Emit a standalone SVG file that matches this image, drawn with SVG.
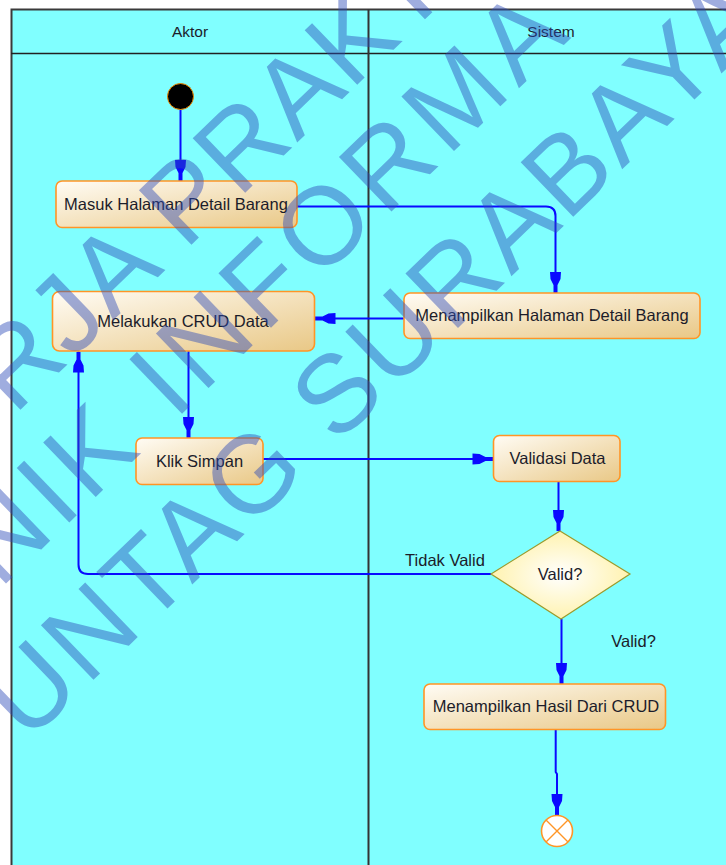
<svg xmlns="http://www.w3.org/2000/svg" width="726" height="865" viewBox="0 0 726 865">
<defs>
<style>
.lbl{font-family:"Liberation Sans",Arial,sans-serif;font-size:16.5px;fill:#1c1c2a;text-anchor:middle}
.hdr{font-family:"Liberation Sans",Arial,sans-serif;font-size:15.5px;fill:#1c1c2a;text-anchor:middle}
.act{fill:url(#actGrad);stroke:#ff9526;stroke-width:1.6}
.con{fill:none;stroke:#0a0aff;stroke-width:2}
.arr{marker-end:url(#ah)}
.wm{font-family:"Liberation Sans",Arial,sans-serif;font-size:110px;fill:#2d4bb9}
</style>
<linearGradient id="actGrad" x1="0" y1="0" x2="1" y2="1">
<stop offset="0" stop-color="#fffcf5"/>
<stop offset="1" stop-color="#e9c886"/>
</linearGradient>
<radialGradient id="decGrad" cx="0.5" cy="0.5" r="0.6">
<stop offset="0" stop-color="#ffffff"/>
<stop offset="1" stop-color="#fff0a0"/>
</radialGradient>
<marker id="ah" viewBox="-22 -6 22 12" refX="0" refY="0" markerWidth="22" markerHeight="12" markerUnits="userSpaceOnUse" orient="auto">
<path d="M-21,-5.5 L-14,-5 L-8,-2 L0,-2 L0,2 L-8,2 L-14,5 L-21,5.5 Z" fill="#0a0aff"/>
</marker>
</defs>
<rect x="0" y="0" width="726" height="865" fill="#ffffff"/>
<g id="swimlanes">
<rect x="11.5" y="9.5" width="730" height="870" fill="#80ffff" stroke="#3a3a3a" stroke-width="2"/>
<line x1="11" y1="53.5" x2="726" y2="53.5" stroke="#222" stroke-width="1.5"/>
<line x1="368.5" y1="9" x2="368.5" y2="865" stroke="#333" stroke-width="2"/>
<text class="hdr" x="190" y="37">Aktor</text>
<text class="hdr" x="551" y="37">Sistem</text>
</g>
<g id="connectors">
<path class="con arr" d="M180.5,110 L180.5,181"/>
<path class="con arr" d="M297,206.5 L546,206.5 Q555.5,206.5 555.5,216 L555.5,293"/>
<path class="con arr" d="M404,318.5 L314.5,318.5"/>
<path class="con arr" d="M188.5,351 L188.5,438"/>
<path class="con arr" d="M263,459 L493.5,459"/>
<path class="con arr" d="M558.5,481.5 L558.5,531"/>
<path class="con arr" d="M491,574 L88,574 Q78.5,574 78.5,564.5 L78.5,351.5"/>
<path class="con arr" d="M561.5,619 L561.5,684"/>
<path class="con arr" d="M555.7,729.5 L555.7,772 L557,774 L557,815"/>
</g>
<g id="start">
<circle cx="180.5" cy="96.5" r="13" fill="#000" stroke="#f08a00" stroke-width="1"/>
</g>
<g id="masuk">
<rect class="act" x="56" y="181" width="241" height="46.5" rx="6"/>
<text class="lbl" x="176" y="210">Masuk Halaman Detail Barang</text>
</g>
<g id="crud">
<rect class="act" x="52.5" y="291.5" width="262" height="59.5" rx="7"/>
<text class="lbl" x="183" y="326.5">Melakukan CRUD Data</text>
</g>
<g id="tampil">
<rect class="act" x="404" y="293" width="296" height="45.5" rx="6"/>
<text class="lbl" x="552" y="321">Menampilkan Halaman Detail Barang</text>
</g>
<g id="simpan">
<rect class="act" x="136" y="438" width="127" height="46.5" rx="6"/>
<text class="lbl" x="199.5" y="467">Klik Simpan</text>
</g>
<g id="validasi">
<rect class="act" x="493.5" y="435.5" width="126.5" height="46" rx="6"/>
<text class="lbl" x="557.5" y="464">Validasi Data</text>
</g>
<g id="decision">
<polygon points="560,531 630,574 561,619 491,574" fill="url(#decGrad)" stroke="#9c9a2c" stroke-width="1.2"/>
<text class="lbl" x="560" y="580">Valid?</text>
</g>
<g id="hasil">
<rect class="act" x="424" y="684" width="241.5" height="45.5" rx="6"/>
<text class="lbl" x="546" y="712">Menampilkan Hasil Dari CRUD</text>
</g>
<g id="end">
<circle cx="557" cy="831" r="15.5" fill="#fff" stroke="#ff9526" stroke-width="1.6"/>
<path d="M546,820 L568,842 M568,820 L546,842" stroke="#ff9526" stroke-width="1.4"/>
</g>
<g id="labels">
<text class="lbl" x="445" y="566">Tidak Valid</text>
<text class="lbl" x="633.5" y="647">Valid?</text>
</g>
<g id="watermark" opacity="0.45" transform="rotate(-44)">
<text class="wm" x="-279" y="309" textLength="610" lengthAdjust="spacing">RJA PRAKT</text>
<text class="wm" x="-410" y="424" textLength="795" lengthAdjust="spacing">NIK INFORMA</text>
<text class="wm" x="-497" y="554" textLength="1038" lengthAdjust="spacing">UNTAG SURABAYA</text>
</g>
</svg>
